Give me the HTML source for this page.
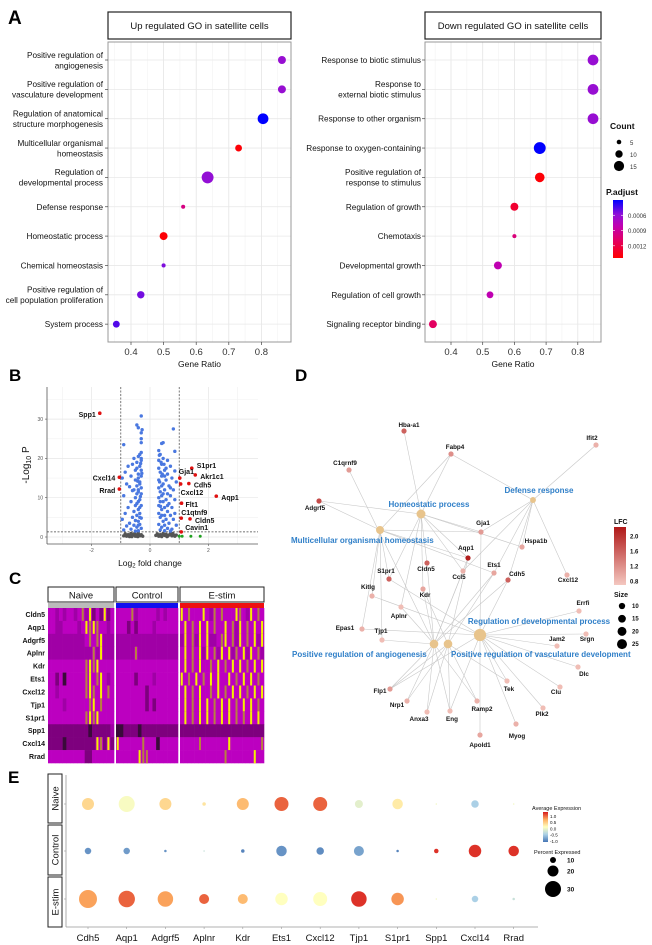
<!DOCTYPE html>
<html><head><meta charset="utf-8">
<style>
html,body{margin:0;padding:0;background:#fff;}
svg{display:block;font-family:"Liberation Sans",sans-serif;}
</style></head>
<body>
<svg id="fig" xmlns="http://www.w3.org/2000/svg" width="652" height="945" viewBox="0 0 652 945">
<rect x="0" y="0" width="652" height="945" fill="#fff"/>
<text x="8" y="24" font-size="19" font-weight="bold">A</text>
<text x="9" y="381" font-size="17" font-weight="bold">B</text>
<text x="9" y="584" font-size="17" font-weight="bold">C</text>
<text x="295" y="381" font-size="17" font-weight="bold">D</text>
<text x="8" y="783" font-size="17" font-weight="bold">E</text>
</svg>
<script>
// ---------- Panel A data ----------
const upTerms = ["Positive regulation of\nangiogenesis","Positive regulation of\nvasculature development","Regulation of anatomical\nstructure morphogenesis","Multicellular organismal\nhomeostasis","Regulation of\ndevelopmental process","Defense response","Homeostatic process","Chemical homeostasis","Positive regulation of\ncell population proliferation","System process"];
const upRatio = [0.863,0.863,0.805,0.73,0.635,0.56,0.5,0.5,0.43,0.355];
const upCount = [11,11,16,9,18,4,11,4,10,9];
const upPadj = [0.00112,0.00112,0.00144,0.00032,0.00114,0.00076,0.00032,0.00119,0.00121,0.00128];
const downTerms = ["Response to biotic stimulus","Response to\nexternal biotic stimulus","Response to other organism","Response to oxygen-containing","Positive regulation of\nresponse to stimulus","Regulation of growth","Chemotaxis","Developmental growth","Regulation of cell growth","Signaling receptor binding"];
const downRatio = [0.848,0.848,0.848,0.68,0.68,0.6,0.6,0.548,0.523,0.343];
const downCount = [16,16,16,18,14,11,4,11,9,11];
const downPadj = [0.00112,0.00112,0.00112,0.00144,0.00032,0.00047,0.00073,0.00093,0.00093,0.00064];
const goTicks = [0.4,0.5,0.6,0.7,0.8];
const goTickLabels = ["0.4","0.5","0.6","0.7","0.8"];
const countLegend = [5,10,15];
const padjLegend = [0.0006,0.0009,0.0012];

// ---------- Panel B data ----------
const volBlue = [[-0.3,30.8],[-0.45,28.5],[-0.4,27.8],[-0.27,27.3],[-0.3,26.5],[-0.3,25],[-0.3,24],[-0.9,23.5],[-0.3,21.5],[-0.35,21],[-0.4,20.5],[-0.55,20],[-0.3,19.5],[-0.45,19],[-0.6,18.5],[-0.35,18],[-0.75,18],[-0.5,17],[-0.3,17],[-0.85,16.5],[-0.4,16],[-0.65,15.5],[-0.3,15.5],[-0.95,15],[-0.5,14.5],[-0.35,14],[-0.8,13.5],[-0.45,13],[-0.7,12.8],[-0.3,12.5],[-0.55,12],[-0.4,11.5],[-0.3,11],[-0.9,10.5],[-0.5,10],[-0.35,9.5],[-0.65,9],[-0.45,8.5],[-0.3,8],[-0.75,7.5],[-0.4,7],[-0.55,6.5],[-0.85,6],[-0.35,6],[-0.45,5.5],[-0.6,5],[-0.3,4.8],[-0.95,4.5],[-0.5,4.2],[-0.4,4],[-0.7,3.5],[-0.35,3.2],[-0.55,3],[-0.8,2.8],[-0.45,2.5],[-0.3,2.2],[-0.65,2],[-0.9,1.8],[-0.4,1.6],[-0.5,1.5],[-0.35,13.5],[-0.4,15],[-0.45,17.5],[-0.4,9],[-0.35,5],[-0.4,3],[-0.5,8],[-0.45,11],[-0.4,12],[-0.35,7.5],[-0.3,20],[-0.32,18.7],[-0.28,16.2],[-0.33,10.3],[-0.6,11.8],[-0.42,14.2],
[0.8,27.5],[0.45,24],[0.4,23.8],[0.85,21.8],[0.3,22],[0.35,21],[0.45,20],[0.3,19.5],[0.6,19.5],[0.4,18.5],[0.7,18],[0.3,17.5],[0.5,17],[0.85,16.8],[0.35,16.5],[0.6,16],[0.4,15.5],[0.75,15],[0.3,14.5],[0.55,14.5],[0.9,14],[0.45,13.5],[0.65,13],[0.3,12.5],[0.5,12],[0.8,12],[0.35,11.5],[0.6,11],[0.4,10.5],[0.7,10.5],[0.3,10],[0.55,9.5],[0.85,9.5],[0.45,9],[0.65,8.5],[0.3,8],[0.5,7.5],[0.75,7.5],[0.4,7],[0.6,6.5],[0.3,6],[0.85,6],[0.5,5.5],[0.7,5.5],[0.35,5],[0.55,4.5],[0.8,4.5],[0.45,4],[0.65,3.5],[0.3,3.2],[0.5,3],[0.9,3],[0.4,2.5],[0.6,2.2],[0.75,2],[0.35,1.8],[0.5,1.6],[0.7,1.5],[0.4,13],[0.5,15.5],[0.45,11],[0.55,17.5],[0.4,5.5],[0.6,8],[0.35,9],[0.7,12.5],[0.32,20.8],[0.38,19],[0.42,16],[0.33,14],[0.48,18.5],[0.36,7.8]];
const volGray = [[-0.9,0.3],[-0.85,0.8],[-0.8,0.2],[-0.75,0.6],[-0.7,0.1],[-0.65,0.9],[-0.6,0.4],[-0.55,0.7],[-0.5,0.2],[-0.45,0.5],[-0.4,0.9],[-0.35,0.3],[-0.3,0.6],[-0.25,0.2],[-0.62,0.1],[-0.42,0.1],[-0.52,0.9],[-0.72,0.5],
[0.2,0.4],[0.25,0.8],[0.3,0.2],[0.35,0.6],[0.4,0.1],[0.45,0.9],[0.5,0.4],[0.55,0.7],[0.6,0.2],[0.65,0.5],[0.7,0.9],[0.75,0.3],[0.8,0.6],[0.85,0.2],[0.9,0.5],[0.38,0.5],[0.58,0.1],[0.78,0.9]];
const volGreen = [[1.0,0.2],[1.1,0.2],[1.4,0.2],[1.72,0.2]];
const volRedNames = ["Spp1","Cxcl14","Rrad","S1pr1","Gja1","Akr1c1","Cdh5","Cxcl12","Aqp1","Flt1","C1qtnf9","Cldn5","Cavin1"];
const volRedFC = [-1.72,-1.05,-1.05,1.43,1.02,1.55,1.33,1.05,2.27,1.08,1.07,1.37,1.07];
const volRedP = [31.5,15.2,12.2,17.5,15,15.8,13.6,13.5,10.4,8.6,4.8,4.6,1.3];
const volYTicks = [0,10,20,30];
const volXTicks = [-2,0,2];

// ---------- Panel C data ----------
const hmGenes = ["Cldn5","Aqp1","Adgrf5","Aplnr","Kdr","Ets1","Cxcl12","Tjp1","S1pr1","Spp1","Cxcl14","Rrad"];
const hmGroups = ["Naive","Control","E-stim"];
const hmNaive = ["332323323425131513","332233332354543323","222222222234345222","222222222222425222","333333333345453333","331303333345345323","332333333345435343","333323333334534333","333333333345453333","111111111110111112","111101111111154151","333333333311333333"];
const hmControl = ["33334233333232333","33313133332333333","22222222222222222","22222422222222222","33333333333333333","33333133332333333","33333333133333333","33333333131333333","33333333333333333","00111101111111111","53333334333033333","33333354433333333"];
const hmEstim = ["53433353243433354325343","35343535343353425343535","25342535223453425343525","35343525342535243525342","35343533435343535343535","53435343535335343535343","35343533435343535343535","35343535343535343535343","35343535343535343435353","11111111111111111111111","33333433333335333333334","33333333333343333333533"];

// ---------- Panel D data ----------
const hubNames = ["Defense response","Homeostatic process","Multicellular organismal homeostasis","Regulation of developmental process","Positive regulation of angiogenesis","Positive regulation of vasculature development"];
const hubSize = [6,14,11,26,13,13];
const geneNames = ["Hba-a1","Fabp4","Ifit2","C1qrnf9","Adgrf5","Gja1","Hspa1b","Aqp1","Cldn5","Ccl5","Ets1","Cdh5","S1pr1","Cxcl12","Kitlg","Kdr","Aplnr","Errfi","Epas1","Tjp1","Jam2","Srgn","Dlc","Flp1","Tek","Clu","Nrp1","Ramp2","Plk2","Anxa3","Eng","Myog","Apold1"];
const geneLFC = [1.6,1.2,0.9,1.1,1.8,1.1,1.0,2.2,1.6,0.9,1.0,1.6,1.6,0.9,0.9,1.0,0.8,0.8,0.9,0.8,0.8,0.8,0.8,1.1,0.8,0.8,0.9,0.9,0.8,0.8,0.8,0.9,1.0];
const geneHubs = [[1],[1,2,0],[0],[4],[1,2],[1,2,0,3],[1,0],[2,1,4,5],[1,4],[0,1,4],[2,0,4,5],[0,3,4],[2,1,3],[0],[2,3],[1,4,5],[1,4],[3],[2,3],[2,4],[3],[3],[3],[4,5,3],[5,3],[3],[4,5],[4,5],[3],[4,5],[4,5,3],[3],[3]];
const lfcLegend = [2.0,1.6,1.2,0.8];
const sizeLegend = [10,15,20,25];

// ---------- Panel E data ----------
const dpGenes = ["Cdh5","Aqp1","Adgrf5","Aplnr","Kdr","Ets1","Cxcl12","Tjp1","S1pr1","Spp1","Cxcl14","Rrad"];
const dpGroups = ["Naive","Control","E-stim"];
const dpPctNaive = [22,30,22,5,22,26,26,14,19,1,13,1];
const dpPctControl = [11,11,3,1,5,19,13,18,3,7,23,19];
const dpPctEstim = [34,31,29,18,18,23,26,29,23,1,11,3];
const dpAvgNaive = [0.4,0.05,0.4,0.3,0.6,1.0,1.0,-0.1,0.25,0,-0.5,0];
const dpAvgControl = [-0.9,-0.85,-0.9,-0.3,-1.0,-0.9,-0.95,-0.8,-1.0,1.2,1.2,1.2];
const dpAvgEstim = [0.75,1.0,0.75,1.0,0.6,0.1,0.1,1.2,0.8,0,-0.5,-0.3];
const dpAvgLegend = [1.0,0.5,0.0,-0.5,-1.0];
const dpPctLegend = [10,20,30];

// ---------- helpers ----------
const NS = "http://www.w3.org/2000/svg";
const svg = document.getElementById('fig');
function mk(tag, attrs, name, parent){
  const el = document.createElementNS(NS, tag);
  for (const k in attrs) el.setAttribute(k, attrs[k]);
  
  
  (parent || svg).appendChild(el);
  return el;
}
function txt(x,y,s,size,anchor,name,extra){
  const a = Object.assign({x:x,y:y,'font-size':size,'text-anchor':anchor||'start',fill:'#111'}, extra||{});
  const t = mk('text', a, name);
  t.textContent = s;
  return t;
}
function lerpHex(a,b,t){
  const pa=[1,3,5].map(i=>parseInt(a.substr(i,2),16)), pb=[1,3,5].map(i=>parseInt(b.substr(i,2),16));
  return 'rgb('+pa.map((v,i)=>Math.round(v+(pb[i]-v)*t)).join(',')+')';
}
function gradColor(stops, t){
  t=Math.max(0,Math.min(1,t));
  for(let i=1;i<stops.length;i++){ if(t<=stops[i][0]){ const s0=stops[i-1],s1=stops[i]; return lerpHex(s0[1],s1[1],(t-s0[0])/(s1[0]-s0[0])); } }
  return stops[stops.length-1][1];
}
const padjStops=[[0,'#ff0000'],[0.33,'#e0006a'],[0.55,'#c000b0'],[0.75,'#9010d8'],[1,'#0000ff']];
const padjMin=0.0003, padjMax=0.00144;
function padjColor(p){ return gradColor(padjStops,(p-padjMin)/(padjMax-padjMin)); }
function countR(c){ return 0.9+0.28*c; }

// ---------- Panel A ----------
function goPanel(terms, ratio, count, padj, box, x0, px, title, labelX, pfx){
  mk('rect',{x:box[0],y:12,width:box[1]-box[0],height:27,fill:'#fff',stroke:'#222','stroke-width':1.2}, pfx+'-title-strip');
  txt((box[0]+box[1])/2, 29, title, 9.5, 'middle', pfx+'-title');
  const xs = v => x0 + (v-0.4)*px;
  const ys = i => 60 + i*29.35;
  const top=42,bot=342;
  for (let v=0.3; v<=0.9001; v+=0.05){
    const gx = xs(v); if (gx<=box[0]||gx>=box[1]) continue;
    const major = Math.abs(Math.round(v*10)-v*10)<0.01;
    mk('line',{x1:gx,y1:top,x2:gx,y2:bot,stroke:major?'#e4e4e4':'#f2f2f2','stroke-width':major?0.8:0.6}, pfx+'-x-grid');
  }
  terms.forEach((t,i)=>{
    mk('line',{x1:box[0],y1:ys(i),x2:box[1],y2:ys(i),stroke:'#e8e8e8','stroke-width':0.8}, pfx+'-y-grid');
  });
  mk('rect',{x:box[0],y:top,width:box[1]-box[0],height:bot-top,fill:'none',stroke:'#999','stroke-width':1}, pfx+'-plot-border');
  terms.forEach((t,i)=>{
    const lines=t.split('\n');
    lines.forEach((ln,j)=>{
      const yy = ys(i) + 3 + (j - (lines.length-1)/2)*10.5;
      txt(labelX, yy, ln, 8.2, 'end', pfx+'-term-label');
    });
    mk('line',{x1:box[0]-3,y1:ys(i),x2:box[0],y2:ys(i),stroke:'#444','stroke-width':0.7}, pfx+'-y-tick');
    mk('circle',{cx:xs(ratio[i]),cy:ys(i),r:countR(count[i]),fill:padjColor(padj[i])}, pfx+'-dot');
  });
  goTicks.forEach((v,i)=>{
    mk('line',{x1:xs(v),y1:bot,x2:xs(v),y2:bot+3,stroke:'#444','stroke-width':0.7}, pfx+'-x-tick');
    txt(xs(v), bot+13, goTickLabels[i], 9.5, 'middle', pfx+'-x-tick-label', {fill:'#333'});
  });
  txt((box[0]+box[1])/2, 367, 'Gene Ratio', 8.5, 'middle', pfx+'-x-axis-title');
}
goPanel(upTerms, upRatio, upCount, upPadj, [108,291], 131, 326, 'Up regulated GO in satellite cells', 103, 'go-up');
goPanel(downTerms, downRatio, downCount, downPadj, [425,601], 451, 317, 'Down regulated GO in satellite cells', 421, 'go-down');
txt(610,129,'Count',8.5,'start','count-legend-title',{'font-weight':'bold'});
countLegend.forEach((c,i)=>{
  mk('circle',{cx:619,cy:142+i*12,r:countR(c),fill:'#000'},'count-legend-dot');
  txt(630,145+i*12,String(c),6,'start','count-legend-label',{fill:'#333'});
});
txt(606,195,'P.adjust',8.5,'start','padj-legend-title',{'font-weight':'bold'});
const defs = mk('defs',{},'defs');
const lg = mk('linearGradient',{id:'gpadj',x1:0,y1:1,x2:0,y2:0},'padj-gradient',defs);
padjStops.forEach(s=>mk('stop',{offset:s[0],'stop-color':s[1]},'gradient-stop',lg));
mk('rect',{x:613,y:200,width:10,height:58,fill:'url(#gpadj)'},'padj-colorbar');
padjLegend.forEach(p=>{
  const yy = 200 + (p-padjMin)/(padjMax-padjMin)*58;
  mk('line',{x1:613,y1:yy,x2:615,y2:yy,stroke:'#fff','stroke-width':0.6},'padj-tick');
  mk('line',{x1:621,y1:yy,x2:623,y2:yy,stroke:'#fff','stroke-width':0.6},'padj-tick');
  txt(628,yy+2.5,p.toFixed(4),6,'start','padj-legend-label',{fill:'#333'});
});

// ---------- Panel B ----------
(function(){
  const L=47,R=258,T=387,B=544;
  const xs=v=>150+v*29.2, ys=v=>537-v*3.93;
  for (let v=-3; v<=3; v+=1){ const gx=xs(v); if(gx<L||gx>R) continue;
    mk('line',{x1:gx,y1:T,x2:gx,y2:B,stroke:v%2===0?'#e6e6e6':'#f3f3f3','stroke-width':0.7},'volcano-x-grid'); }
  for (let v=0; v<=35; v+=5){ mk('line',{x1:L,y1:ys(v),x2:R,y2:ys(v),stroke:v%10===0?'#e6e6e6':'#f3f3f3','stroke-width':0.7},'volcano-y-grid'); }
  mk('line',{x1:L,y1:T,x2:L,y2:B,stroke:'#555','stroke-width':0.8},'volcano-y-axis');
  mk('line',{x1:L,y1:B,x2:R,y2:B,stroke:'#555','stroke-width':0.8},'volcano-x-axis');
  volYTicks.forEach(v=>{ mk('line',{x1:L-2,y1:ys(v),x2:L,y2:ys(v),stroke:'#555','stroke-width':0.6},'volcano-y-tick');
    txt(L-4,ys(v)+1.8,String(v),5,'end','volcano-y-tick-label',{fill:'#555'}); });
  volXTicks.forEach(v=>{ mk('line',{x1:xs(v),y1:B,x2:xs(v),y2:B+2,stroke:'#555','stroke-width':0.6},'volcano-x-tick');
    txt(xs(v),B+8,String(v),5,'middle','volcano-x-tick-label',{fill:'#555'}); });
  mk('line',{x1:xs(-1),y1:T,x2:xs(-1),y2:B,stroke:'#444','stroke-width':0.7,'stroke-dasharray':'2,1.5'},'fc-threshold-left');
  mk('line',{x1:xs(1),y1:T,x2:xs(1),y2:B,stroke:'#444','stroke-width':0.7,'stroke-dasharray':'2,1.5'},'fc-threshold-right');
  mk('line',{x1:L,y1:ys(1.3),x2:R,y2:ys(1.3),stroke:'#444','stroke-width':0.7,'stroke-dasharray':'2,1.5'},'p-threshold');
  volGray.forEach(p=>mk('circle',{cx:xs(p[0]),cy:ys(p[1]),r:1.7,fill:'#555'},'volcano-point-ns'));
  volBlue.forEach(p=>mk('circle',{cx:xs(p[0]),cy:ys(p[1]),r:1.7,fill:'#4a78e0'},'volcano-point-p'));
  volGreen.forEach(p=>mk('circle',{cx:xs(p[0]),cy:ys(p[1]),r:1.5,fill:'#22a022'},'volcano-point-fc'));
  const ldx=[-4,-4,-4,5,-1,5,5,0,5,4,0,5,4], ldy=[2,1,2,-2,-6,2,2,9,2,2,-5,2,-4];
  volRedNames.forEach((n,i)=>{
    const cx=xs(volRedFC[i]), cy=ys(volRedP[i]);
    mk('circle',{cx:cx,cy:cy,r:1.8,fill:'#e01010'},'volcano-point-sig');
    const anchor = volRedFC[i]<0 ? 'end':'start';
    txt(cx+ldx[i], cy+ldy[i]+2, n, 7, anchor, 'volcano-gene-label', {'font-weight':'bold'});
  });
  const yl = txt(0,0,'',10,'middle','volcano-y-title',{transform:'translate(29,465) rotate(-90)'});
  const t1=mk('tspan',{},'y-title-part',yl); t1.textContent='-Log';
  const t2=mk('tspan',{'font-size':7,dy:2},'y-title-sub',yl); t2.textContent='10';
  const t3=mk('tspan',{dy:-2},'y-title-part',yl); t3.textContent=' P';
  const xl = txt(150,566,'',8.5,'middle','volcano-x-title');
  const a1=mk('tspan',{},'x-title-part',xl); a1.textContent='Log';
  const a2=mk('tspan',{'font-size':6,dy:1.5},'x-title-sub',xl); a2.textContent='2';
  const a3=mk('tspan',{dy:-1.5},'x-title-part',xl); a3.textContent=' fold change';
})();

// ---------- Panel C ----------
(function(){
  const groups=[[48,114,hmNaive,'#bbbbbb'],[116,178,hmControl,'#1010ee'],[180,264,hmEstim,'#ee1010']];
  const levelColors=['#3a0a3a','#7e007e','#a000a6','#bc00c0','#b88040','#f4f000'];
  const top=608, rh=(763-608)/12;
  groups.forEach((g,gi)=>{
    mk('rect',{x:g[0],y:587,width:g[1]-g[0],height:15,fill:'#fff',stroke:'#222','stroke-width':1},'heatmap-group-strip');
    txt((g[0]+g[1])/2,598.5,hmGroups[gi],9.5,'middle','heatmap-group-label');
    mk('rect',{x:g[0],y:603,width:g[1]-g[0],height:5,fill:g[3]},'heatmap-group-bar');
    g[2].forEach((row,ri)=>{
      const n=row.length, w=(g[1]-g[0])/n;
      const base = ri===9 ? levelColors[1] : levelColors[3];
      for(let c=0;c<n;c++){
        const lv=+row[c];
        if (lv>=4){
          mk('rect',{x:g[0]+c*w,y:top+ri*rh,width:w+0.3,height:rh+0.3,fill:base},'heatmap-cell');
          mk('rect',{x:g[0]+c*w+w*0.2,y:top+ri*rh,width:w*0.55,height:rh+0.3,fill:levelColors[lv]},'heatmap-cell-high');
        } else {
          mk('rect',{x:g[0]+c*w,y:top+ri*rh,width:w+0.3,height:rh+0.3,fill:levelColors[lv]},'heatmap-cell');
        }
      }
    });
  });
  hmGenes.forEach((gname,ri)=>txt(45,top+ri*rh+rh/2+2.5,gname,7,'end','heatmap-gene-label',{'font-weight':'bold'}));
})();

// ---------- Panel D ----------
(function(){
  const hubPos=[[533,500],[421,514],[380,530],[480,635],[434,644],[448,644]];
  const genePos=[[404,431],[451,454],[596,445],[349,470],[319,501],[481,532],[522,547],[468,558],[427,563],[463,571],[494,573],[508,580],[389,579],[567,575],[372,596],[423,589],[401,607],[579,611],[362,629],[382,640],[557,646],[586,634],[578,667],[390,689],[507,681],[560,687],[407,701],[477,701],[543,708],[427,712],[450,711],[516,724],[480,735]];
  const labelOff=[[5,-6],[4,-7],[-4,-7],[-4,-7],[-4,7],[2,-9],[14,-6],[-2,-10],[-1,6],[-4,6],[0,-8],[9,-6],[-3,-8],[1,5],[-4,-9],[2,6],[-2,9],[4,-8],[-17,-1],[-1,-9],[0,-7],[1,5],[6,7],[-10,2],[2,8],[-4,5],[-10,4],[5,8],[-1,6],[-8,7],[2,8],[1,12],[0,10]];
  geneHubs.forEach((hs,gi)=>hs.forEach(h=>{
    mk('line',{x1:genePos[gi][0],y1:genePos[gi][1],x2:hubPos[h][0],y2:hubPos[h][1],stroke:'#c8c8c8','stroke-width':0.6},'network-edge');
  }));
  const lfcStops=[[0,'#f4c8c0'],[1,'#b01818']];
  const lfcC=v=>gradColor(lfcStops,(v-0.7)/(2.25-0.7));
  hubNames.forEach((n,i)=>mk('circle',{cx:hubPos[i][0],cy:hubPos[i][1],r:Math.sqrt(hubSize[i])*1.2,fill:'#e8c48c'},'network-term-node'));
  geneNames.forEach((n,i)=>{
    mk('circle',{cx:genePos[i][0],cy:genePos[i][1],r:2.6,fill:lfcC(geneLFC[i])},'network-gene-node');
    const o=labelOff[i];
    txt(genePos[i][0]+o[0],genePos[i][1]+o[1]+2,n,6.3,'middle','network-gene-label',{'font-weight':'bold'});
  });
  const hubLab=[[539,493,'middle'],[429,507,'middle'],[291,543,'start'],[539,624,'middle'],[292,657,'start'],[451,657,'start']];
  hubNames.forEach((n,i)=>txt(hubLab[i][0],hubLab[i][1],n,8,hubLab[i][2],'network-term-label',{fill:'#2f7fc8','font-weight':'bold'}));
  txt(614,524,'LFC',7,'start','lfc-legend-title',{'font-weight':'bold'});
  const g2=mk('linearGradient',{id:'glfc',x1:0,y1:1,x2:0,y2:0},'lfc-gradient',defs);
  lfcStops.forEach(s=>mk('stop',{offset:s[0],'stop-color':s[1]},'gradient-stop',g2));
  mk('rect',{x:614,y:527,width:12,height:58,fill:'url(#glfc)'},'lfc-colorbar');
  lfcLegend.forEach(v=>{ const yy=527+(2.25-v)/(2.25-0.7)*58; txt(630,yy+2,v.toFixed(1),6,'start','lfc-legend-label',{'font-weight':'bold'}); });
  txt(614,597,'Size',7,'start','size-legend-title',{'font-weight':'bold'});
  sizeLegend.forEach((s,i)=>{ mk('circle',{cx:622,cy:606+i*12.7,r:Math.sqrt(s)*1,fill:'#000'},'size-legend-dot');
    txt(632,608+i*12.7,String(s),6,'start','size-legend-label',{'font-weight':'bold'}); });
})();

// ---------- Panel E ----------
(function(){
  const xs=i=>88+i*38.7;
  const rowsY=[804,851,899];
  const pct=[dpPctNaive,dpPctControl,dpPctEstim], avg=[dpAvgNaive,dpAvgControl,dpAvgEstim];
  const avgStops=[[0,'#4575b4'],[0.25,'#abd0e6'],[0.5,'#ffffbf'],[0.75,'#fdae61'],[1,'#d7191c']];
  const avgC=v=>gradColor(avgStops,(v+1.1)/2.4);
  const pr=p=>0.25*p+0.5;
  const strips=[[774,823],[825,875],[877,927]];
  dpGroups.forEach((g,i)=>{
    mk('rect',{x:48,y:strips[i][0],width:14,height:strips[i][1]-strips[i][0],fill:'#fff',stroke:'#222','stroke-width':1},'dotplot-group-strip');
    txt(0,0,g,9.5,'middle','dotplot-group-label',{transform:'translate(58.5,'+((strips[i][0]+strips[i][1])/2)+') rotate(-90)'});
    mk('line',{x1:64,y1:rowsY[i],x2:66,y2:rowsY[i],stroke:'#999','stroke-width':0.6},'dotplot-y-tick');
  });
  mk('line',{x1:66,y1:775,x2:66,y2:927,stroke:'#999','stroke-width':0.8},'dotplot-y-axis');
  mk('line',{x1:66,y1:927,x2:538,y2:927,stroke:'#999','stroke-width':0.8},'dotplot-x-axis');
  dpGenes.forEach((g,i)=>{
    txt(xs(i),941,g,9.5,'middle','dotplot-gene-label');
    mk('line',{x1:xs(i),y1:927,x2:xs(i),y2:929,stroke:'#999','stroke-width':0.6},'dotplot-x-tick');
    rowsY.forEach((y,r)=>mk('circle',{cx:xs(i),cy:y,r:pr(pct[r][i]),fill:avgC(avg[r][i])},'dotplot-dot'));
  });
  txt(532,810,'Average Expression',5.5,'start','avg-legend-title');
  const g3=mk('linearGradient',{id:'gavg',x1:0,y1:1,x2:0,y2:0},'avg-gradient',defs);
  avgStops.forEach(s=>mk('stop',{offset:s[0],'stop-color':s[1]},'gradient-stop',g3));
  mk('rect',{x:543,y:812,width:5,height:30,fill:'url(#gavg)'},'avg-colorbar');
  dpAvgLegend.forEach(v=>{ const yy=812+(1.3-v)/2.4*30; txt(550,yy+2,v.toFixed(1),4.5,'start','avg-legend-label'); });
  txt(534,854,'Percent Expressed',5.5,'start','pct-legend-title');
  const py=[860,871,889];
  dpPctLegend.forEach((p,i)=>{ mk('circle',{cx:553,cy:py[i],r:pr(p),fill:'#000'},'pct-legend-dot');
    txt(567,py[i]+2.5,String(p),6.5,'start','pct-legend-label',{'font-weight':'bold'}); });
})();
</script>
</body></html>
